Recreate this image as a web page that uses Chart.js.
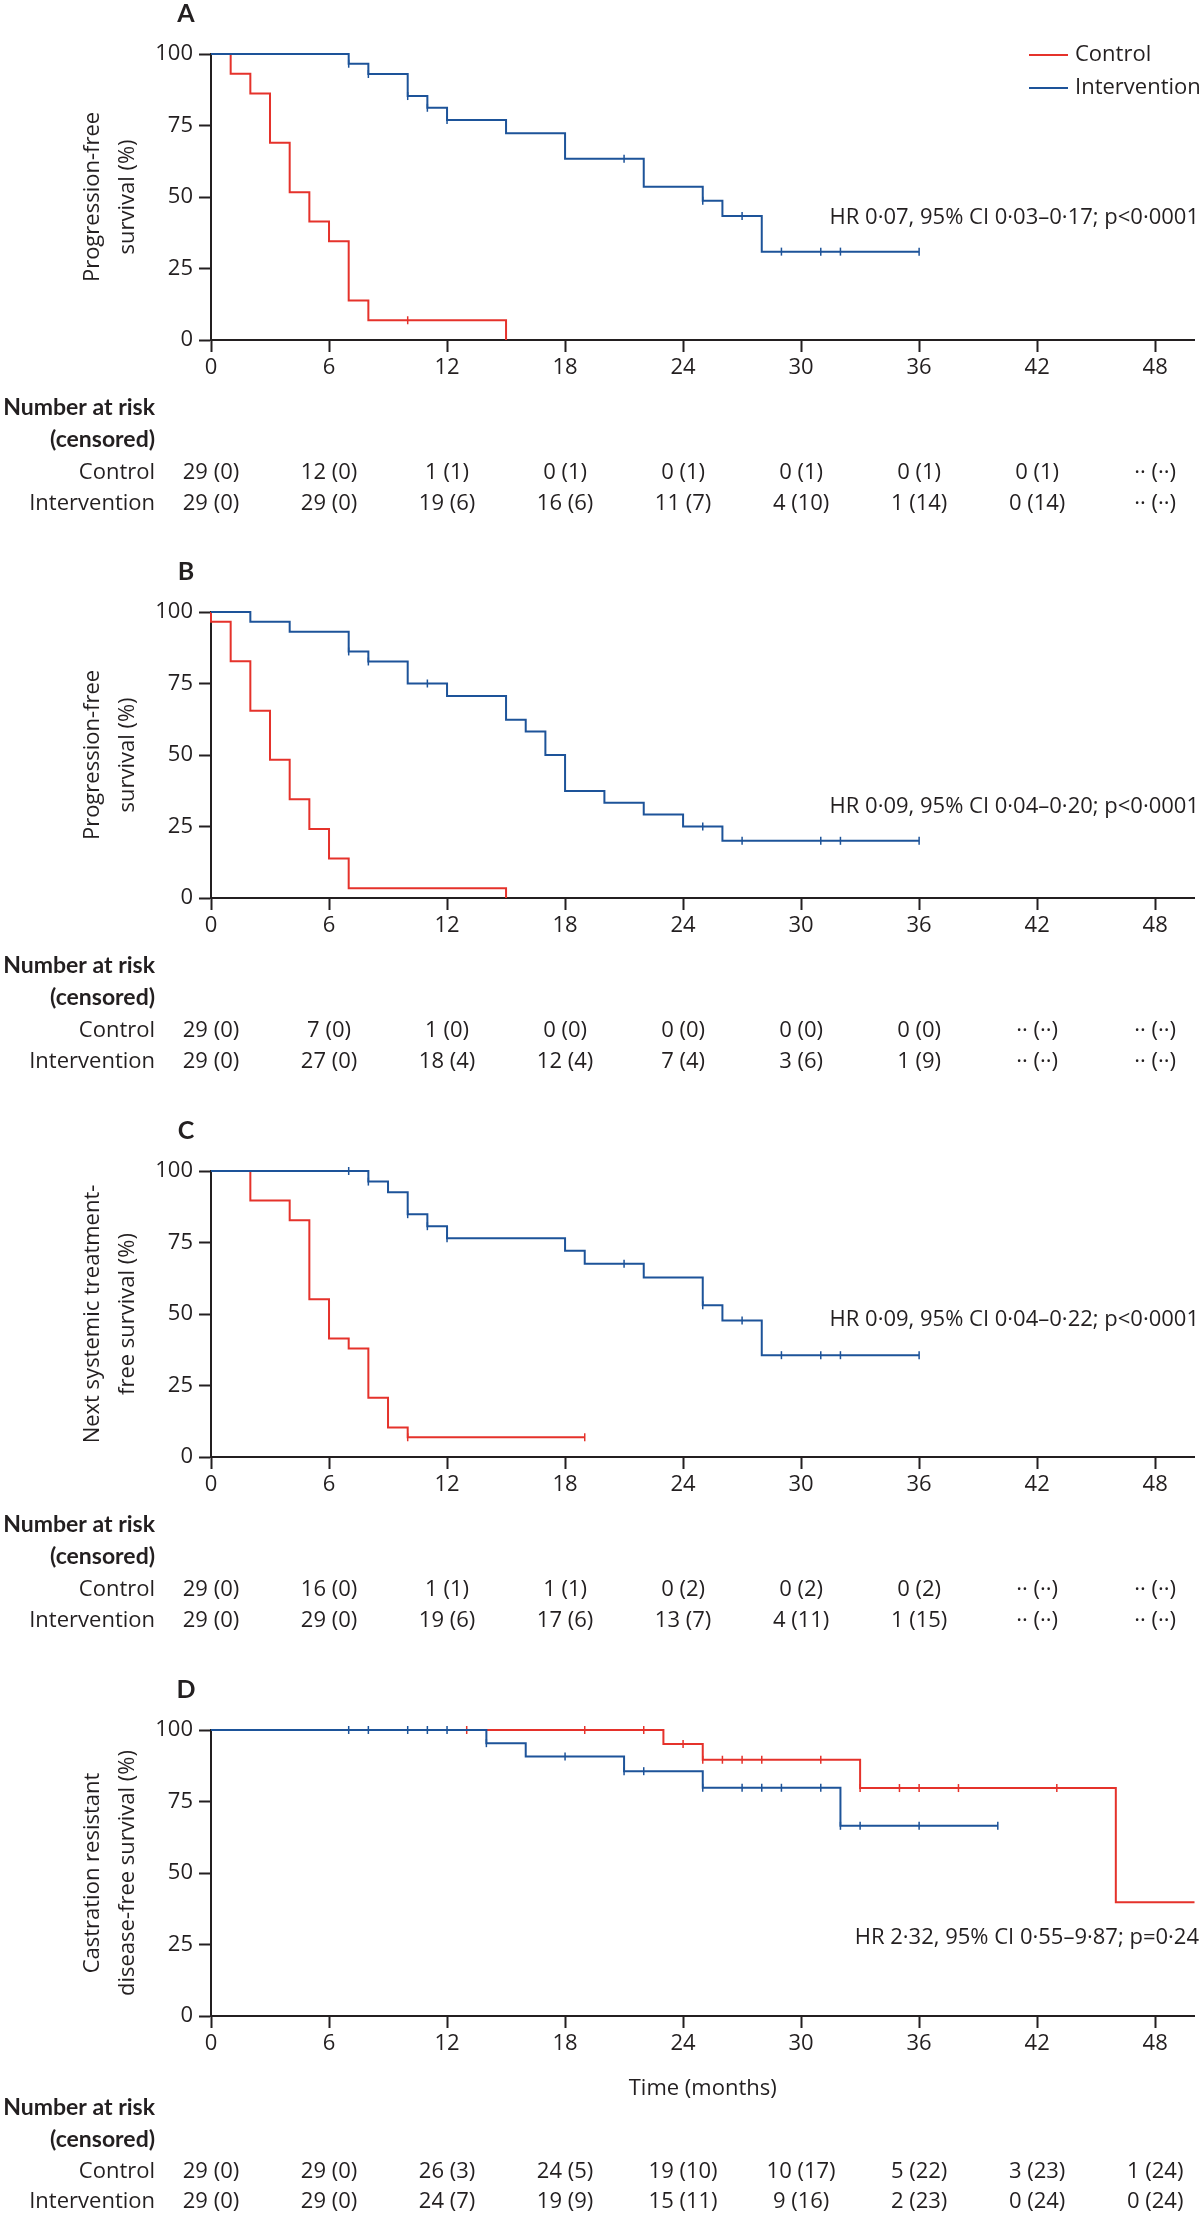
<!DOCTYPE html>
<html>
<head>
<meta charset="utf-8">
<script src="https://cdn.jsdelivr.net/npm/chart.js@4.4.1/dist/chart.umd.min.js"></script>
<style>
  html, body { margin: 0; padding: 0; background: #fff; }
  canvas { display: block; }
</style>
</head>
<body>
<canvas id="panelA" width="1200" height="558"></canvas>
<canvas id="panelB" width="1200" height="559"></canvas>
<canvas id="panelC" width="1200" height="559"></canvas>
<canvas id="panelD" width="1200" height="540"></canvas>
<script>
// months shown on the time axis, also the number-at-risk columns
const monthTicks = [0, 6, 12, 18, 24, 30, 36, 42, 48];

// A - progression-free survival
const ctrlTimesA = [0, 1, 2, 3, 4, 5, 6, 7, 8, 15];
const ctrlSurvA  = [100, 93.1, 86.2, 69.0, 51.7, 41.4, 34.5, 13.8, 6.9, 0];
const ctrlCensA  = [10];
const intTimesA  = [0, 7, 8, 10, 11, 12, 15, 18, 22, 25, 26, 28, 36];
const intSurvA   = [100, 96.6, 93.0, 85.3, 81.2, 76.9, 72.3, 63.4, 53.6, 48.7, 43.4, 30.9, 30.9];
const intCensA   = [7, 8, 10, 11, 12, 21, 25, 27, 29, 31, 32, 36];
const ctrlRiskA  = ['29 (0)', '12 (0)', '1 (1)', '0 (1)', '0 (1)', '0 (1)', '0 (1)', '0 (1)', '·· (··)'];
const intRiskA   = ['29 (0)', '29 (0)', '19 (6)', '16 (6)', '11 (7)', '4 (10)', '1 (14)', '0 (14)', '·· (··)'];

// B - progression-free survival
const ctrlTimesB = [0, 0, 1, 2, 3, 4, 5, 6, 7, 15];
const ctrlSurvB  = [100, 96.6, 82.8, 65.5, 48.3, 34.5, 24.1, 13.8, 3.4, 0];
const ctrlCensB  = [];
const intTimesB  = [0, 2, 4, 7, 8, 10, 12, 15, 16, 17, 18, 20, 22, 24, 26, 36];
const intSurvB   = [100, 96.6, 93.1, 86.2, 82.7, 75.0, 70.6, 62.3, 58.2, 50.0, 37.4, 33.3, 29.2, 25.0, 20.0, 20.0];
const intCensB   = [7, 8, 11, 25, 27, 31, 32, 36];
const ctrlRiskB  = ['29 (0)', '7 (0)', '1 (0)', '0 (0)', '0 (0)', '0 (0)', '0 (0)', '·· (··)', '·· (··)'];
const intRiskB   = ['29 (0)', '27 (0)', '18 (4)', '12 (4)', '7 (4)', '3 (6)', '1 (9)', '·· (··)', '·· (··)'];

// C - next systemic treatment-free survival
const ctrlTimesC = [0, 2, 4, 5, 6, 7, 8, 9, 10, 19];
const ctrlSurvC  = [100, 89.7, 82.8, 55.2, 41.4, 37.9, 20.7, 10.3, 6.9, 6.9];
const ctrlCensC  = [10, 19];
const intTimesC  = [0, 8, 9, 10, 11, 12, 18, 19, 22, 25, 26, 28, 36];
const intSurvC   = [100, 96.3, 92.6, 84.9, 80.7, 76.5, 72.1, 67.6, 62.8, 53.1, 47.7, 35.6, 35.6];
const intCensC   = [7, 8, 10, 11, 12, 21, 25, 27, 29, 31, 32, 36];
const ctrlRiskC  = ['29 (0)', '16 (0)', '1 (1)', '1 (1)', '0 (2)', '0 (2)', '0 (2)', '·· (··)', '·· (··)'];
const intRiskC   = ['29 (0)', '29 (0)', '19 (6)', '17 (6)', '13 (7)', '4 (11)', '1 (15)', '·· (··)', '·· (··)'];

// D - castration resistant disease-free survival
const ctrlTimesD = [0, 23, 25, 33, 46, 50];
const ctrlSurvD  = [100, 95.1, 89.6, 79.7, 39.8, 39.8];
const ctrlCensD  = [13, 19, 22, 24, 25, 26, 27, 28, 31, 33, 35, 36, 38, 43];
const intTimesD  = [0, 14, 16, 21, 25, 32, 40];
const intSurvD   = [100, 95.4, 90.7, 85.6, 79.8, 66.5, 66.5];
const intCensD   = [7, 8, 10, 11, 12, 14, 18, 21, 22, 25, 27, 28, 29, 31, 32, 33, 36, 40];
const ctrlRiskD  = ['29 (0)', '29 (0)', '26 (3)', '24 (5)', '19 (10)', '10 (17)', '5 (22)', '3 (23)', '1 (24)'];
const intRiskD   = ['29 (0)', '29 (0)', '24 (7)', '19 (9)', '15 (11)', '9 (16)', '2 (23)', '0 (24)', '0 (24)'];

const RED = '#e5322b';
const BLUE = '#1d5399';
const INK = '#231f20';
const FONT = "'Open Sans', 'Noto Sans', sans-serif";
const BOLD_FONT = "Lato, 'Open Sans', sans-serif";

Chart.defaults.font.family = FONT;
Chart.defaults.font.size = 22;
Chart.defaults.color = INK;

function toPoints(times, surv) {
    return times.map((t, i) => ({ x: t, y: surv[i] }));
}

// survival level of the curve at a censoring time
function levelAt(times, surv, t) {
    let v = surv[0];
    for (let i = 0; i < times.length; i++) {
        if (times[i] <= t) v = surv[i];
    }
    return v;
}

function censorPoints(times, surv, cens) {
    return cens.map(t => ({ x: t, y: levelAt(times, surv, t) }));
}

const panelExtras = {
    id: 'panelExtras',
    afterDraw(chart, args, opts) {
        const ctx = chart.ctx;
        const xs = chart.scales.x;
        const ys = chart.scales.y;
        ctx.save();
        ctx.fillStyle = INK;

        // panel letter
        ctx.font = 'bold 25px ' + BOLD_FONT;
        ctx.textAlign = 'center';
        ctx.textBaseline = 'alphabetic';
        ctx.fillText(opts.letter, 186, 22);

        // hazard ratio
        ctx.font = '22px ' + FONT;
        ctx.textAlign = 'right';
        ctx.textBaseline = 'middle';
        ctx.fillText(opts.hr, 1199, ys.getPixelForValue(opts.hrAt));

        // legend (panel A only)
        if (opts.legend) {
            const items = [['Control', RED], ['Intervention', BLUE]];
            items.forEach(([label, col], i) => {
                const yy = ys.top + 1 + i * 33;
                ctx.strokeStyle = col;
                ctx.lineWidth = 2;
                ctx.beginPath();
                ctx.moveTo(1029, yy);
                ctx.lineTo(1068, yy);
                ctx.stroke();
                ctx.textAlign = 'left';
                ctx.fillText(label, 1075, yy);
            });
        }

        // number at risk table
        const base = ys.bottom;
        const rows = opts.rowOffsets;
        ctx.textAlign = 'right';
        ctx.font = 'bold 23px ' + BOLD_FONT;
        ctx.fillText('Number at risk', 155, base + rows[0]);
        ctx.fillText('(censored)', 155, base + rows[1]);
        ctx.font = '22px ' + FONT;
        ctx.fillText('Control', 155, base + rows[2]);
        ctx.fillText('Intervention', 155, base + rows[3]);
        ctx.textAlign = 'center';
        monthTicks.forEach((m, i) => {
            const px = xs.getPixelForValue(m);
            ctx.fillText(opts.ctrlRisk[i], px, base + rows[2]);
            ctx.fillText(opts.intRisk[i], px, base + rows[3]);
        });
        ctx.restore();
    }
};

function makePanel(id, p) {
    const xHeight = p.xTitle ? 90 : 40;
    const canvas = document.getElementById(id);
    const padBottom = canvas.height - 340 - xHeight;
    return new Chart(canvas, {
        type: 'line',
        data: {
            datasets: [
                {
                    label: 'Intervention',
                    data: toPoints(p.intTimes, p.intSurv),
                    borderColor: BLUE, borderWidth: 2, stepped: true,
                    pointRadius: 0, fill: false, clip: false
                },
                {
                    label: 'Intervention censored',
                    data: censorPoints(p.intTimes, p.intSurv, p.intCens),
                    showLine: false, pointStyle: 'line', rotation: 90,
                    pointRadius: 4, pointBorderWidth: 1.5,
                    pointBorderColor: BLUE, pointBackgroundColor: BLUE, clip: false
                },
                {
                    label: 'Control',
                    data: toPoints(p.ctrlTimes, p.ctrlSurv),
                    borderColor: RED, borderWidth: 2, stepped: true,
                    pointRadius: 0, fill: false, clip: false
                },
                {
                    label: 'Control censored',
                    data: censorPoints(p.ctrlTimes, p.ctrlSurv, p.ctrlCens),
                    showLine: false, pointStyle: 'line', rotation: 90,
                    pointRadius: 4, pointBorderWidth: 1.5,
                    pointBorderColor: RED, pointBackgroundColor: RED, clip: false
                }
            ]
        },
        options: {
            responsive: false,
            animation: false,
            events: [],
            layout: { padding: { top: 54, left: 0, right: 0, bottom: padBottom } },
            plugins: {
                legend: { display: false },
                tooltip: { enabled: false },
                panelExtras: p.extras
            },
            scales: {
                x: {
                    type: 'linear',
                    min: 0, max: 50,
                    afterFit(scale) { scale.height = xHeight; },
                    ticks: { stepSize: 6, includeBounds: false, padding: 3, maxRotation: 0, color: INK },
                    grid: { drawOnChartArea: false, drawTicks: true, tickLength: 12, tickWidth: 2, tickColor: INK },
                    border: { display: true, color: INK, width: 2 },
                    title: {
                        display: !!p.xTitle, text: p.xTitle || '', color: INK,
                        font: { size: 22, lineHeight: 35 / 22 }, padding: { top: 0, bottom: 0 }
                    }
                },
                y: {
                    type: 'linear',
                    min: 0, max: 100,
                    afterFit(scale) { scale.width = 211; },
                    ticks: { stepSize: 25, padding: 6, color: INK },
                    grid: { drawOnChartArea: false, drawTicks: true, tickLength: 12, tickWidth: 2, tickColor: INK },
                    border: { display: true, color: INK, width: 2 },
                    title: {
                        display: true, text: p.yTitle, color: INK,
                        font: { size: 22, lineHeight: 35 / 22 }, padding: { top: 75.5, bottom: 0 }
                    }
                }
            }
        },
        plugins: [panelExtras]
    });
}

const tableRowsTop = [68, 100, 133, 164];

makePanel('panelA', {
    ctrlTimes: ctrlTimesA, ctrlSurv: ctrlSurvA, ctrlCens: ctrlCensA,
    intTimes: intTimesA, intSurv: intSurvA, intCens: intCensA,
    yTitle: ['Progression-free', 'survival (%)'],
    extras: { letter: 'A', hr: 'HR 0·07, 95% CI 0·03–0·17; p<0·0001', hrAt: 42.7,
              legend: true, rowOffsets: tableRowsTop, ctrlRisk: ctrlRiskA, intRisk: intRiskA }
});

makePanel('panelB', {
    ctrlTimes: ctrlTimesB, ctrlSurv: ctrlSurvB, ctrlCens: ctrlCensB,
    intTimes: intTimesB, intSurv: intSurvB, intCens: intCensB,
    yTitle: ['Progression-free', 'survival (%)'],
    extras: { letter: 'B', hr: 'HR 0·09, 95% CI 0·04–0·20; p<0·0001', hrAt: 31.8,
              legend: false, rowOffsets: tableRowsTop, ctrlRisk: ctrlRiskB, intRisk: intRiskB }
});

makePanel('panelC', {
    ctrlTimes: ctrlTimesC, ctrlSurv: ctrlSurvC, ctrlCens: ctrlCensC,
    intTimes: intTimesC, intSurv: intSurvC, intCens: intCensC,
    yTitle: ['Next systemic treatment-', 'free survival (%)'],
    extras: { letter: 'C', hr: 'HR 0·09, 95% CI 0·04–0·22; p<0·0001', hrAt: 47.9,
              legend: false, rowOffsets: tableRowsTop, ctrlRisk: ctrlRiskC, intRisk: intRiskC }
});

makePanel('panelD', {
    ctrlTimes: ctrlTimesD, ctrlSurv: ctrlSurvD, ctrlCens: ctrlCensD,
    intTimes: intTimesD, intSurv: intSurvD, intCens: intCensD,
    yTitle: ['Castration resistant', 'disease-free survival (%)'],
    xTitle: 'Time (months)',
    extras: { letter: 'D', hr: 'HR 2·32, 95% CI 0·55–9·87; p=0·24', hrAt: 27.3,
              legend: false, rowOffsets: [92, 124, 156, 186], ctrlRisk: ctrlRiskD, intRisk: intRiskD }
});
</script>
</body>
</html>
